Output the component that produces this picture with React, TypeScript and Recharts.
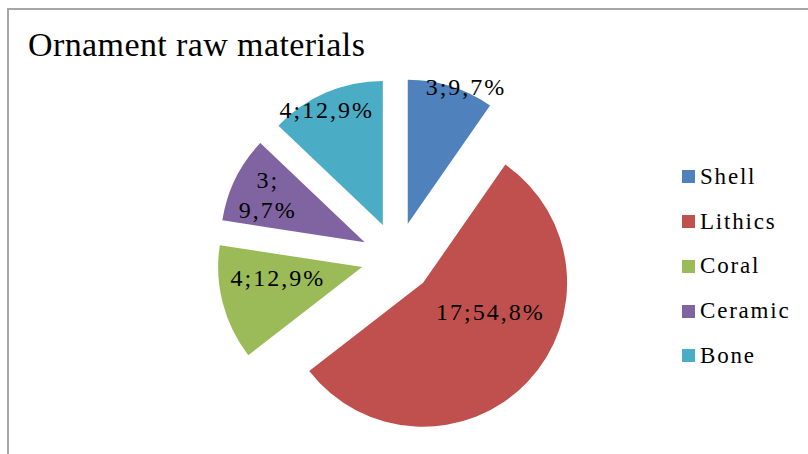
import React from "react";
import { PieChart, Pie, Sector, Legend } from "recharts";

const materials = ["Shell", "Lithics", "Coral", "Ceramic", "Bone"];
const counts = [3, 17, 4, 3, 4];
const sliceColors = ["#4F81BD", "#C0504D", "#9BBB59", "#8064A2", "#4BACC6"];

// where the data labels sit: fraction of radius out from the slice tip + clockwise nudge (deg)
const labelSpots = [
  { r: 1.03, turn: 5.7, wrap: false },
  { r: 0.51, turn: -19.9, wrap: false },
  { r: 0.59, turn: 7, wrap: false },
  { r: 0.75, turn: 0, wrap: true },
  { r: 0.89, turn: -2.7, wrap: false },
];

const chartData = materials.map((name, i) => ({
  name,
  value: counts[i],
  fill: sliceColors[i],
}));

const RADIAN = Math.PI / 180;
const EXPLODE = 36;
const serif = "'Liberation Serif', 'Times New Roman', serif";

// draws the exploded slice and its label (base sectors are left invisible)
const renderSlice = (props: any) => {
  const { cx, cy, midAngle, outerRadius, startAngle, endAngle, index, value, percent } = props;
  const a = -midAngle * RADIAN;
  const ox = cx + EXPLODE * Math.cos(a);
  const oy = cy + EXPLODE * Math.sin(a);
  const spot = labelSpots[index];
  const la = -(midAngle - spot.turn) * RADIAN;
  const lx = ox + outerRadius * spot.r * Math.cos(la);
  const ly = oy + outerRadius * spot.r * Math.sin(la);
  const pct = (percent * 100).toFixed(1).replace(".", ",") + "%";

  return (
    <g key={"slice-" + index}>
      <Sector
        cx={ox}
        cy={oy}
        innerRadius={0}
        outerRadius={outerRadius}
        startAngle={startAngle}
        endAngle={endAngle}
        fill={sliceColors[index]}
        stroke="none"
      />
      {spot.wrap ? (
        <text
          x={lx}
          y={ly}
          textAnchor="middle"
          fontFamily={serif}
          fontSize={24}
          letterSpacing={2}
          fill="#000"
        >
          <tspan x={lx} y={ly - 15} dominantBaseline="central">
            {value + ";"}
          </tspan>
          <tspan x={lx} y={ly + 15} dominantBaseline="central">
            {pct}
          </tspan>
        </text>
      ) : (
        <text
          x={lx}
          y={ly}
          textAnchor="middle"
          dominantBaseline="central"
          fontFamily={serif}
          fontSize={24}
          letterSpacing={2}
          fill="#000"
        >
          {value + ";" + pct}
        </text>
      )}
    </g>
  );
};

const LegendBox = () => (
  <div style={{ fontFamily: serif, fontSize: 23, color: "#000" }}>
    {materials.map((m, i) => (
      <div
        key={m}
        style={{ height: 44.75, display: "flex", alignItems: "center" }}
      >
        <span
          style={{
            width: 13,
            height: 13,
            background: sliceColors[i],
            display: "inline-block",
            marginRight: 5,
          }}
        />
        <span style={{ fontFamily: serif, fontSize: 23, letterSpacing: 1.8 }}>
          {m}
        </span>
      </div>
    ))}
  </div>
);

export default function App() {
  return (
    <div
      style={{
        position: "absolute",
        left: 0,
        top: 0,
        width: 808,
        height: 454,
        background: "#fff",
        overflow: "hidden",
      }}
    >
      <div
        style={{
          position: "absolute",
          left: 7,
          top: 8,
          width: 820,
          height: 470,
          borderLeft: "2px solid #a6a6a6",
          borderTop: "2px solid #a6a6a6",
        }}
      />
      <div
        style={{
          position: "absolute",
          left: 28,
          top: 28,
          fontFamily: serif,
          fontSize: 34,
          lineHeight: "34px",
          letterSpacing: 0.4,
          color: "#000",
          whiteSpace: "nowrap",
        }}
      >
        Ornament raw materials
      </div>
      <div style={{ position: "absolute", left: 0, top: 0 }}>
        <PieChart
          width={808}
          height={454}
          margin={{ top: 0, right: 0, bottom: 0, left: 0 }}
        >
          <Pie
            data={chartData}
            dataKey="value"
            nameKey="name"
            cx={397}
            cy={258}
            outerRadius={144}
            startAngle={90}
            endAngle={-270}
            stroke="none"
            fillOpacity={0}
            label={renderSlice}
            labelLine={false}
            isAnimationActive={false}
          />
          <Legend
            layout="vertical"
            align="right"
            verticalAlign="middle"
            content={() => <LegendBox />}
            wrapperStyle={{ left: 682, top: 154.6, width: 126, fontFamily: serif }}
          />
        </PieChart>
      </div>
    </div>
  );
}
